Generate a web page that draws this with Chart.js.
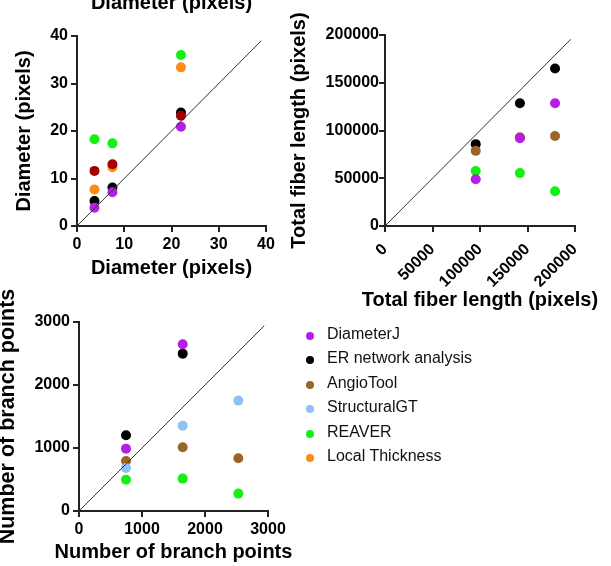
<!DOCTYPE html>
<html>
<head>
<meta charset="utf-8">
<script src="https://cdn.jsdelivr.net/npm/chart.js@4.4.0/dist/chart.umd.min.js"></script>
<style>
  body { margin: 0; background: #fff; }
  #wrap { position: relative; width: 611px; height: 566px; overflow: hidden; font-family: 'Liberation Sans', Arial, sans-serif; }
  #wrap canvas { position: absolute; left: 0; top: 0; }
  #legend { position: absolute; left: 306px; top: 322px; margin: 0; padding: 0; list-style: none; }
  #legend li { height: 24.4px; line-height: 24.4px; font-size: 16px; color: #111; white-space: nowrap; }
  #legend span { display: inline-block; width: 8px; height: 8px; border-radius: 50%; margin-right: 13px; vertical-align: -1px; }
</style>
</head>
<body>
<div id="wrap">
  <canvas id="diamChart" width="611" height="566"></canvas>
  <canvas id="lenChart" width="611" height="566"></canvas>
  <canvas id="branchChart" width="611" height="566"></canvas>
  <ul id="legend"></ul>
</div>
<script>
// methods (legend order)
var methods = ["DiameterJ", "ER network analysis", "AngioTool", "StructuralGT", "REAVER", "Local Thickness"];
var methodColors = ['#b41ee6', '#000000', '#9c6426', '#90c0f4', '#14f014', '#ff8a14'];
var extraColor = '#a00000'; // dark red series, not in the legend

// diameter (pixels)
var diamX = [3.7, 7.5, 22];
var diamDiameterJ = [3.85, 7.1, 20.9];
var diamER = [5.25, 8.1, 23.9];
var diamExtra = [11.6, 13.0, 23.2];
var diamLocalThickness = [7.7, 12.35, 33.4];
var diamREAVER = [18.25, 17.4, 36.0];
var diamLine = [0, 39];
var diamTicks = [0, 10, 20, 30, 40];

// total fiber length (pixels)
var lenX = [95500, 142000, 179000];
var lenDiameterJ = [49000, 91800, 128500];
var lenER = [85700, 128500, 165000];
var lenAngioTool = [78700, 93000, 94200];
var lenREAVER = [57500, 55400, 36300];
var lenLine = [0, 195500];
var lenTicks = [0, 50000, 100000, 150000, 200000];

// number of branch points
var brX = [746, 1646, 2529];
var brDiameterJ = [990, 2646, null];
var brER = [1202, 2498, null];
var brAngioTool = [794, 1011, 836];
var brStructuralGT = [683, 1355, 1752];
var brREAVER = [498, 514, 276];
var brLine = [0, 2940];
var brTicks = [0, 1000, 2000, 3000];

var FONT = "'Liberation Sans', Arial, sans-serif";
var AXIS = '#222';

function pts(xs, ys) {
    var out = [];
    for (var i = 0; i < xs.length; i++) {
        if (ys[i] != null) out.push({x: xs[i], y: ys[i]});
    }
    return out;
}

function dots(label, color, xs, ys) {
    return {
        label: label,
        data: pts(xs, ys),
        backgroundColor: color,
        borderWidth: 0,
        pointRadius: 5,
        pointHoverRadius: 5,
        order: 1
    };
}

function diag(line) {
    return {
        type: 'line',
        data: pts(line, line),
        borderColor: '#333',
        borderWidth: 1,
        pointRadius: 0,
        fill: false,
        order: -1
    };
}

function axis(pos, ticks, titleText, size, extra) {
    var s = {
        type: 'linear',
        position: pos,
        min: ticks[0],
        max: ticks[ticks.length - 1],
        afterBuildTicks: function (scale) {
            scale.ticks = ticks.map(function (v) { return {value: v}; });
        },
        afterFit: function (scale) {
            if (pos === 'left') scale.width = size; else scale.height = size;
        },
        ticks: {
            color: '#000',
            font: {family: FONT, size: 16, weight: 'bold'},
            padding: 3,
            callback: function (v) { return String(v); }
        },
        grid: {drawOnChartArea: false, drawTicks: true, tickLength: 6, color: AXIS, lineWidth: 2},
        border: {color: AXIS, width: 2},
        title: {
            // x titles are wider than the plot, so they are drawn by the axisTitle plugin
            display: pos === 'left',
            text: titleText,
            color: '#000',
            font: {family: FONT, size: 20, weight: 'bold'},
            padding: {top: 0, bottom: 0}
        }
    };
    if (extra) {
        for (var k in extra) {
            if (k === 'ticks' || k === 'title') Object.assign(s[k], extra[k]); else s[k] = extra[k];
        }
    }
    return s;
}

// bottom axis title without squeezing it into the plot width
var axisTitle = {
    id: 'axisTitle',
    afterDraw: function (chart) {
        var s = chart.scales.x;
        var ctx = chart.ctx;
        ctx.save();
        ctx.font = 'bold 20px ' + FONT;
        ctx.fillStyle = '#000';
        ctx.textAlign = 'center';
        ctx.textBaseline = 'middle';
        ctx.fillText(s.options.title.text, (s.left + s.right) / 2, s.bottom - 12);
        ctx.restore();
    }
};

// title of the panel above, cut off at the top edge
var cutTitle = {
    id: 'cutTitle',
    afterDraw: function (chart) {
        var ctx = chart.ctx;
        var a = chart.chartArea;
        ctx.save();
        ctx.font = 'bold 20px ' + FONT;
        ctx.fillStyle = '#000';
        ctx.textAlign = 'center';
        ctx.textBaseline = 'alphabetic';
        ctx.fillText('Diameter (pixels)', (a.left + a.right) / 2, 9);
        ctx.restore();
    }
};

function makeChart(id, datasets, xScale, yScale, padding, plugins) {
    return new Chart(document.getElementById(id), {
        type: 'scatter',
        data: {datasets: datasets},
        options: {
            responsive: false,
            animation: false,
            devicePixelRatio: 1,
            layout: {padding: padding},
            scales: {x: xScale, y: yScale},
            plugins: {legend: {display: false}, tooltip: {enabled: false}}
        },
        plugins: [axisTitle].concat(plugins || [])
    });
}

makeChart('diamChart', [
    diag(diamLine),
    dots(methods[0], methodColors[0], diamX, diamDiameterJ),
    dots('', extraColor, diamX, diamExtra),
    dots(methods[1], methodColors[1], diamX, diamER),
    dots(methods[5], methodColors[5], diamX, diamLocalThickness),
    dots(methods[4], methodColors[4], diamX, diamREAVER)
], axis('bottom', diamTicks, 'Diameter (pixels)', 54),
   axis('left', diamTicks, 'Diameter (pixels)', 65),
   {left: 12, top: 36, right: 345, bottom: 286}, [cutTitle]);

makeChart('lenChart', [
    diag(lenLine),
    dots(methods[0], methodColors[0], lenX, lenDiameterJ),
    dots(methods[2], methodColors[2], lenX, lenAngioTool),
    dots(methods[1], methodColors[1], lenX, lenER),
    dots(methods[4], methodColors[4], lenX, lenREAVER)
], axis('bottom', lenTicks, 'Total fiber length (pixels)', 86, {ticks: {minRotation: 45, maxRotation: 45, padding: 8}}),
   axis('left', lenTicks, 'Total fiber length (pixels)', 98, {ticks: {padding: 0}}),
   {left: 287, top: 35, right: 36, bottom: 254});

makeChart('branchChart', [
    diag(brLine),
    dots(methods[0], methodColors[0], brX, brDiameterJ),
    dots(methods[1], methodColors[1], brX, brER),
    dots(methods[3], methodColors[3], brX, brStructuralGT),
    dots(methods[2], methodColors[2], brX, brAngioTool),
    dots(methods[4], methodColors[4], brX, brREAVER)
], axis('bottom', brTicks, 'Number of branch points', 53),
   axis('left', brTicks, 'Number of branch points', 79,
        {title: {font: {family: FONT, size: 21.5, weight: 'bold'}, padding: {top: -5, bottom: 0}}}),
   {left: 0, top: 322, right: 343, bottom: 2});

// legend
var ul = document.getElementById('legend');
methods.forEach(function (m, i) {
    var li = document.createElement('li');
    var dot = document.createElement('span');
    dot.style.background = methodColors[i];
    li.appendChild(dot);
    li.appendChild(document.createTextNode(m));
    ul.appendChild(li);
});
</script>
</body>
</html>
